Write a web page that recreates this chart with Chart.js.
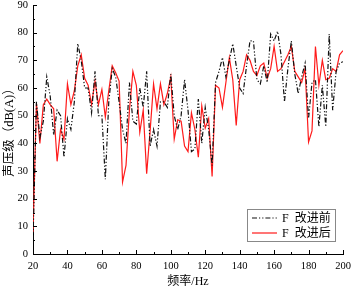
<!DOCTYPE html>
<html><head><meta charset="utf-8">
<script src="https://cdn.jsdelivr.net/npm/chart.js@4/dist/chart.umd.min.js"></script>
<style>html,body{margin:0;padding:0;background:#fff}#wrap{width:352px;height:289px}</style>
</head><body><div id="wrap"><canvas id="c" width="352" height="289"></canvas></div>
<script>
const freqs = [20,22,24,26,28,30,32,34,36,38,40,42,44,46,48,50,52,54,56,58,60,62,64,66,68,70,72,74,76,78,80,82,84,86,88,90,92,94,96,98,100,102,104,106,108,110,112,114,116,118,120,122,124,126,128,130,132,134,136,138,140,142,144,146,148,150,152,154,156,158,160,162,164,166,168,170,172,174,176,178,180,182,184,186,188,190,192,194,196,198,200];
const before = [5,55,42,48,64,57,43,52,50,35,49,45,55,76,70,60,60,51,66,50,50,27,55,67,64,55,45,40,62,48,47,60,53,66,39,45,39,55,55,53,65,50,45,50,63,52,37,38,56,40,53,45,32,62,66,71,64,70,76,68,60,58,68,77,77,63,61.5,68,62,79.5,77,80.5,72,55,67,77,65,58,64,69,49,62,63,46,61,46,79.5,52,66,69,69.5];
const after = [8,54.5,40,54,56,54,52.5,33.5,45,41.5,61.5,54,59,68,72,63.5,61,54,62.5,54,59.5,49.5,59,68,65.5,62.5,26,32,52,66,61,44,52,29,44.5,61.5,52.5,61.5,54,58,64,41.5,48.5,48,39,37,51,45,35,53.5,45.5,49,28,61,60,53,62,71,63,46.5,63,66,72,70,66,64.5,68,69,63.5,67,75,66,67,69.5,72,75,66,64,62,67,40.5,44.5,75,61,70,63,63.5,67,66,72,73.5];
const seriesNames = ['F  改进前','F  改进后'];
const yTicks = [0,10,20,30,40,50,60,70,80,90];
const xTicks = [20,40,60,80,100,120,140,160,180,200];

const serif = '"Liberation Serif","Noto Sans CJK SC",serif';

const tickPlugin = {
  id:'inTicks',
  afterDraw(chart){
    const ctx = chart.ctx, xs = chart.scales.x, ys = chart.scales.y;
    const b = ys.getPixelForValue(0), l = xs.getPixelForValue(20);
    ctx.save(); ctx.strokeStyle='#000'; ctx.lineWidth=1;
    for(let v=20; v<=200; v+=10){
      const px = Math.round(xs.getPixelForValue(v))+0.5;
      const len = (v%20===0)?4:2;
      ctx.beginPath(); ctx.moveTo(px,b); ctx.lineTo(px,b-len); ctx.stroke();
    }
    for(let v=0; v<=90; v+=5){
      const py = Math.round(ys.getPixelForValue(v))+0.5;
      const len = (v%10===0)?4:2;
      ctx.beginPath(); ctx.moveTo(l,py); ctx.lineTo(l+len,py); ctx.stroke();
    }
    // legend
    const lx=247, ly=209, lw=88, lh=32;
    ctx.fillStyle='#fff'; ctx.fillRect(lx,ly,lw,lh);
    ctx.strokeStyle='#888'; ctx.strokeRect(lx+0.5,ly+0.5,lw,lh);
    chart.data.datasets.forEach((ds,i)=>{
      const yy = ly+9+i*15;
      ctx.strokeStyle=ds.borderColor; ctx.lineWidth=ds.borderWidth;
      ctx.setLineDash(ds.borderDash||[]);
      ctx.beginPath(); ctx.moveTo(lx+5,yy); ctx.lineTo(lx+30,yy); ctx.stroke();
      ctx.setLineDash([]);
      ctx.fillStyle='#000'; ctx.font='12px '+serif; ctx.textBaseline='middle'; ctx.textAlign='left';
      ctx.fillText(ds.label, lx+35, yy+1);
    });
    ctx.restore();
  }
};

new Chart(document.getElementById('c'),{
  type:'line',
  data:{datasets:[
    {label:seriesNames[0], data:freqs.map((f,i)=>({x:f,y:before[i]})), borderColor:'#111', borderWidth:1.2, borderDash:[5,2,1.2,2,1.2,2], pointRadius:0, tension:0, fill:false},
    {label:seriesNames[1], data:freqs.map((f,i)=>({x:f,y:after[i]})), borderColor:'#ff1a1a', borderWidth:1.2, pointRadius:0, tension:0, fill:false}
  ]},
  options:{
    responsive:false, animation:false, devicePixelRatio:1,
    layout:{padding:{top:5,right:9,left:0,bottom:0}, autoPadding:false},
    plugins:{legend:{display:false}, tooltip:{enabled:false}},
    scales:{
      x:{type:'linear', min:20, max:200,
         afterBuildTicks(s){ s.ticks = xTicks.map(v=>({value:v})); },
         afterFit(s){ s.height = 35; s.paddingLeft = 0; s.paddingRight = 0; },
         grid:{display:false, drawTicks:false},
         border:{display:true,color:'#000',width:1},
         ticks:{color:'#000', font:{family:serif,size:10.5}, padding:6, maxRotation:0},
         title:{display:true, text:'频率/Hz', color:'#000', font:{family:serif,size:12}, padding:{top:1,bottom:0}}
      },
      y:{min:0, max:90,
         afterBuildTicks(s){ s.ticks = yTicks.map(v=>({value:v})); },
         afterFit(s){ s.width = 33; s.paddingTop = 0; s.paddingBottom = 0; },
         grid:{display:false, drawTicks:false},
         border:{display:true,color:'#000',width:1},
         ticks:{color:'#000', font:{family:serif,size:10.5}, padding:5},
         title:{display:true, text:'声压级（dB(A)）', color:'#000', font:{family:serif,size:12.5}, padding:{top:2,bottom:0}}
      }
    }
  },
  plugins:[tickPlugin]
});
</script></body></html>
